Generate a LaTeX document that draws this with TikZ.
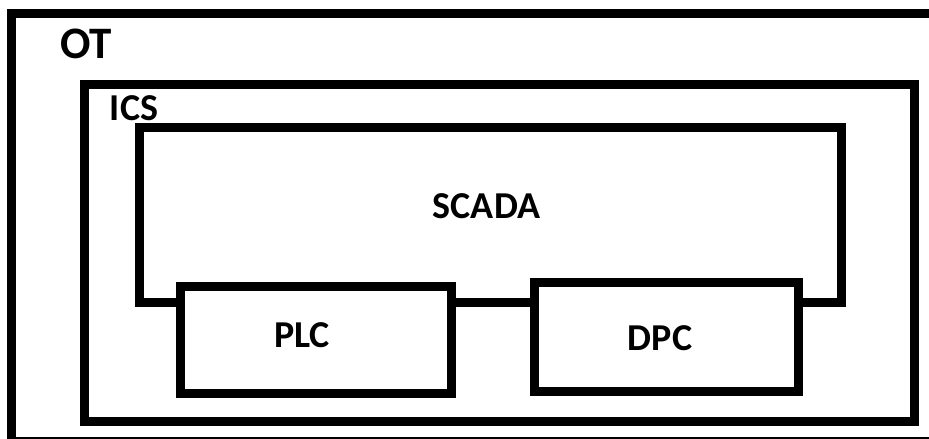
\documentclass[tikz,border=0pt]{standalone}
\usepackage{fontspec}
\setmainfont{Carlito}
\begin{document}
\begin{tikzpicture}[x=1pt,y=-1pt,
  boxline/.style={draw=black,line width=9pt},
  lbl/.style={font=\bfseries\fontsize{38}{42}\selectfont,inner sep=0pt,anchor=base}]
\useasboundingbox (0,0) rectangle (929,439);
\begin{scope}
\clip (0,0) rectangle (929,439);
\draw[boxline] (11.5,13) rectangle (945,441.5);
\end{scope}
\node[lbl,font=\bfseries\fontsize{45}{50}\selectfont] (ot) at (86,58) {OT};
\draw[boxline] (84.5,84) rectangle (914,421.5);
\node[lbl] (ics) at (134,120) {ICS};
\draw[boxline] (139.5,127.5) rectangle (841,302);
\node[lbl] (scada) at (486.5,218) {SCADA};
\draw[boxline,fill=white] (180.5,286) rectangle (451,393.5);
\node[lbl] (plc) at (302,347) {PLC};
\draw[boxline,fill=white] (534.5,282.5) rectangle (798.5,391.5);
\node[lbl] (dpc) at (660,350) {DPC};
\end{tikzpicture}
\end{document}
